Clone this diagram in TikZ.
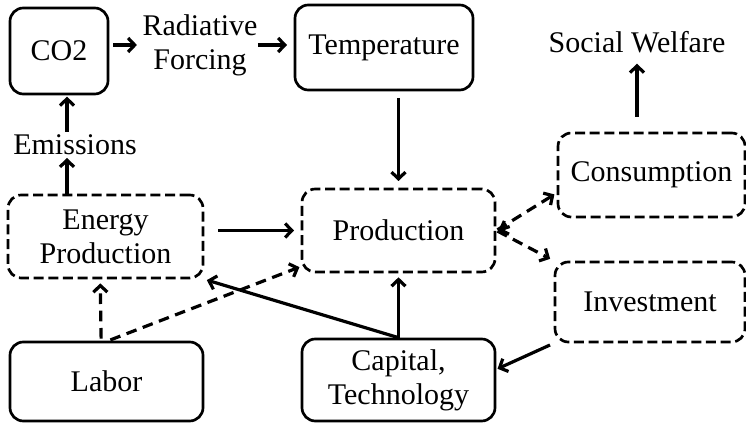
\documentclass[tikz,border=0pt]{standalone}
\usepackage{fontspec}
\setmainfont{Liberation Serif}
\usetikzlibrary{arrows.meta}
\tikzset{
  box/.style={draw, line width=2pt, rounded corners=10pt, inner sep=0pt, align=center},
  dbox/.style={box, dash pattern=on 7.5pt off 3.5pt},
  txt/.style={inner sep=0pt, align=center},
  tip/.style={-{Straight Barb[length=5pt,width=10.5pt]}},
  arr/.style={line width=2.4pt, tip},
  darr/.style={arr, dash pattern=on 8pt off 5pt},
}
\begin{document}
\begin{tikzpicture}[x=0.75pt,y=-0.75pt,font=\fontsize{22.5}{25.5}\selectfont]
\useasboundingbox (0,0) rectangle (746,423);
% boxes
\node[box, minimum width=73.5pt, minimum height=64.5pt] (co2) at (59,51) {CO2};
\node[box, minimum width=133.5pt, minimum height=63.75pt] (temp) at (384,47.5) {Temperature};
\node[dbox, minimum width=146.25pt, minimum height=62.25pt] (energy) at (105.5,236.5) {Energy\\Production};
\node[dbox, minimum width=144.75pt, minimum height=62.25pt] (prod) at (398.5,230.5) {Production};
\node[dbox, minimum width=140.25pt, minimum height=63pt] (cons) at (651.5,175) {Consumption};
\node[dbox, minimum width=142.5pt, minimum height=60pt] (inv) at (650,302) {Investment};
\node[box, minimum width=144.75pt, minimum height=59.25pt] (labor) at (106.5,381.5) {Labor};
\node[box, minimum width=144.75pt, minimum height=61.5pt] (cap) at (398.5,380) {Capital,\\Technology};
% text nodes
\node[txt] (rad) at (200,45) {Radiative\\Forcing};
\node[txt] (emis) at (75,145) {Emissions};
\node[txt] (sw) at (637,42) {Social Welfare};
% helper coordinates
\coordinate (emn) at ([xshift=-6pt]emis.north);
\coordinate (ems) at ([xshift=-6pt]emis.south);
% connectors
\draw[arr, shorten <=3pt, shorten >=4pt] (co2.east |- rad.west) -- (rad.west);
\draw[arr, shorten >=5pt] (rad.east) -- (temp.west |- rad.east);
\draw[arr, shorten <=2pt, shorten >=1pt] (emn) -- (emn |- co2.south);
\draw[arr, shorten >=2pt] (energy.north -| ems) -- (ems);
\draw[arr, shorten <=5pt, shorten >=5pt] (temp.south -| prod.north) -- (prod.north);
\draw[arr, shorten <=11pt, shorten >=8pt] (cons.north -| sw.south) -- (sw.south);
\draw[arr, shorten <=10.5pt, shorten >=5pt] (energy.east |- prod.west) -- (prod.west);
\draw[darr, shorten <=1.5pt, shorten >=3pt] ([xshift=-4pt]labor.north) -- ([xshift=-4pt]energy.south);
\draw[darr, shorten <=1.5pt, shorten >=1pt] ([xshift=1.5pt]labor.north) -- ([yshift=5pt]prod.south west);
\draw[arr, shorten <=1pt, shorten >=2pt] (cap.north) -- (energy.south east);
\draw[arr, shorten >=3pt] (cap.north) -- (prod.south);
\draw[darr, shorten <=1pt, shorten >=2pt] (prod.east) -- ([yshift=-13.5pt]cons.west);
\draw[arr] ([xshift=10pt,yshift=3pt]prod.east) -- ([xshift=1.5pt]prod.east);
\draw[darr, shorten <=1pt, shorten >=3pt] (prod.east) -- (inv.north west);
\draw[arr, shorten <=3pt, shorten >=1pt] (inv.south west) -- ([yshift=8pt]cap.east);
\end{tikzpicture}
\end{document}
